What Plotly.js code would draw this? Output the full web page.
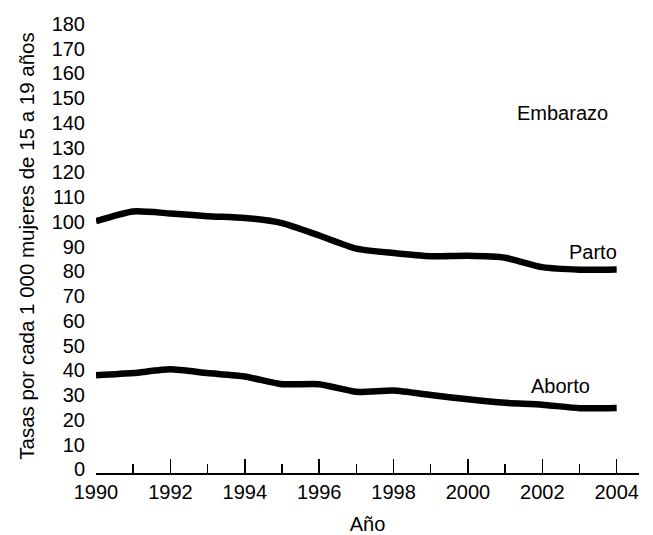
<!DOCTYPE html>
<html>
<head>
<meta charset="utf-8">
<script src="https://cdn.plot.ly/plotly-3.0.1.min.js"></script>
<style>html,body{margin:0;padding:0;background:#fff;}#chart{width:653px;height:535px;}</style>
</head>
<body>
<div id="chart"></div>
<script>
const years = [1990, 1991, 1992, 1993, 1994, 1995, 1996, 1997, 1998, 1999, 2000, 2001, 2002, 2003, 2004];
const parto = [100.3, 104.2, 103.4, 102.3, 101.6, 99.5, 94.5, 89.2, 87.4, 86.1, 86.3, 85.5, 81.7, 80.7, 80.8];
const aborto = [38.0, 38.9, 40.4, 38.9, 37.5, 34.4, 34.4, 31.3, 31.8, 30.0, 28.3, 26.9, 26.1, 24.7, 24.8];
const seriesNames = ["Parto", "Aborto"];
const extraLabel = "Embarazo";
const yTicks = [0,10,20,30,40,50,60,70,80,90,100,110,120,130,140,150,160,170,180];
const xTicks = [1990, 1992, 1994, 1996, 1998, 2000, 2002, 2004];

const font = "Liberation Sans, Arial, sans-serif";
const lineStyle = {color: "#000", width: 6.5, shape: "spline", smoothing: 0.6};

const traces = [
  {x: years, y: parto, name: seriesNames[0], mode: "lines", line: lineStyle, hoverinfo: "x+y+name"},
  {x: years, y: aborto, name: seriesNames[1], mode: "lines", line: lineStyle, hoverinfo: "x+y+name"}
];

const layout = {
  width: 653, height: 535,
  margin: {l: 96, r: 14, t: 19, b: 62},
  paper_bgcolor: "#fff", plot_bgcolor: "#fff",
  showlegend: false,
  font: {family: font, size: 20, color: "#000"},
  xaxis: {
    range: [1990, 2004.6],
    tickvals: xTicks,
    ticktext: xTicks.map(String),
    ticks: "inside", ticklen: 14, tickwidth: 1.5, tickcolor: "#000",
    minor: {dtick: 1, tick0: 1990, ticks: "inside", ticklen: 9, tickwidth: 1.5, tickcolor: "#000"},
    showline: true, linecolor: "#000", linewidth: 1.5,
    showgrid: false, zeroline: false,
    tickfont: {family: font, size: 20, color: "#000"},
    title: {text: "Año", font: {family: font, size: 20, color: "#000"}, standoff: 17}
  },
  yaxis: {
    range: [-1.5, 182],
    tickvals: yTicks,
    ticktext: yTicks.map(String),
    ticks: "", showline: false, showgrid: false, zeroline: false,
    ticklabelstandoff: 10,
    tickfont: {family: font, size: 20, color: "#000"},
    title: {text: "Tasas por cada 1 000 mujeres de 15 a 19 años", font: {family: font, size: 20.5, color: "#000"}, standoff: 11}
  },
  annotations: [
    {x: 2002.55, y: 144.2, xref: "x", yref: "y", text: extraLabel, showarrow: false, xanchor: "center", yanchor: "middle", font: {family: font, size: 20, color: "#000"}},
    {x: 2004.06, y: 87.7, xref: "x", yref: "y", text: seriesNames[0], showarrow: false, xanchor: "right", yanchor: "middle", font: {family: font, size: 20, color: "#000"}},
    {x: 2002.5, y: 33.5, xref: "x", yref: "y", text: seriesNames[1], showarrow: false, xanchor: "center", yanchor: "middle", font: {family: font, size: 20, color: "#000"}}
  ]
};

Plotly.newPlot("chart", traces, layout, {displayModeBar: false, staticPlot: true});
</script>
</body>
</html>
